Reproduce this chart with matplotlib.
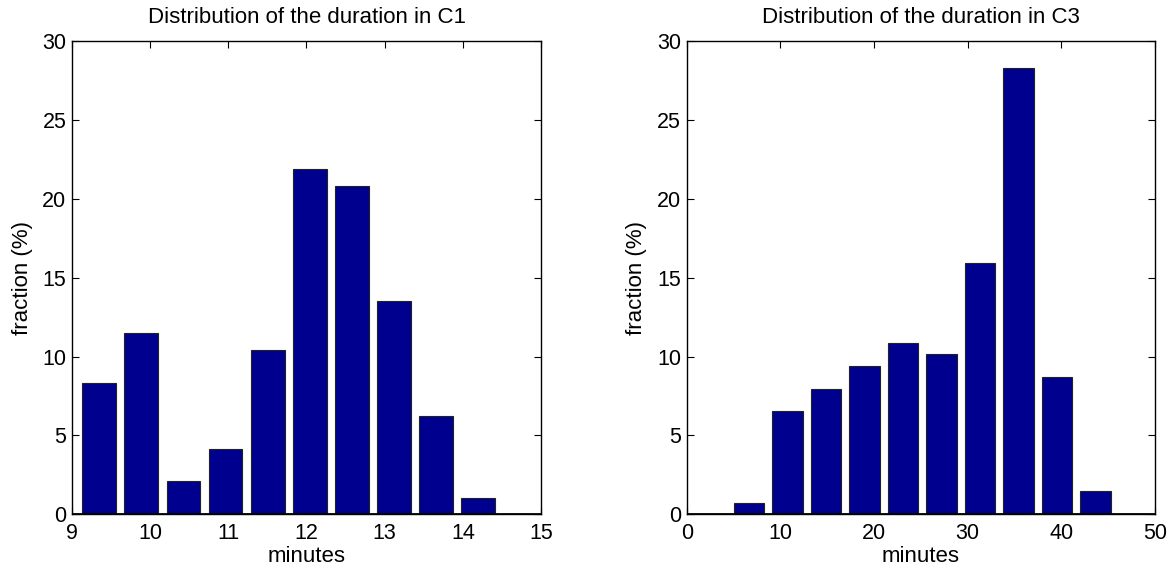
import matplotlib
matplotlib.use("Agg")
import matplotlib.pyplot as plt

plt.rcParams['font.family'] = ['Liberation Sans', 'DejaVu Sans']

# C1 histogram
c1_centers = [9.347, 9.886, 10.425, 10.964, 11.503, 12.042, 12.581, 13.120, 13.659, 14.198]
c1_values = [8.33, 11.46, 2.08, 4.17, 10.42, 21.88, 20.83, 13.54, 6.25, 1.04]
c1_xticks = [9, 10, 11, 12, 13, 14, 15]

# C3 histogram
c3_centers = [6.65, 10.76, 14.87, 18.98, 23.09, 27.21, 31.32, 35.43, 39.54, 43.65]
c3_values = [0.72, 6.52, 7.97, 9.42, 10.87, 10.14, 15.94, 28.26, 8.70, 1.45]
c3_xticks = [0, 10, 20, 30, 40, 50]

yticks = [0, 5, 10, 15, 20, 25, 30]
bar_color = '#00008F'

fig = plt.figure(figsize=(11.72, 5.71), dpi=100)
ax1 = fig.add_axes([72 / 1172, 1 - 514.3 / 571, (541 - 72) / 1172, (514.3 - 41) / 571])
ax2 = fig.add_axes([686.7 / 1172, 1 - 514.3 / 571, (1155 - 686.7) / 1172, (514.3 - 41) / 571])

def style(ax, centers, values, xticks, title):
    step = centers[1] - centers[0]
    ax.bar(centers, values, width=0.8 * step, color=bar_color,
           edgecolor='#222222', linewidth=0.8, zorder=2)
    ax.axhline(0, color='black', linewidth=2, zorder=3)
    ax.set_xlim(xticks[0], xticks[-1])
    ax.set_ylim(0, 30)
    ax.set_xticks(xticks)
    ax.set_yticks(yticks)
    ax.tick_params(direction='in', top=True, right=True, length=5,
                   width=0.8, labelsize=15.5)
    ax.tick_params(axis='x', pad=6)
    ax.tick_params(axis='y', pad=4)
    for s in ax.spines.values():
        s.set_linewidth(1.0)
    ax.set_xlabel('minutes', fontsize=16, labelpad=2)
    ax.set_ylabel('fraction (%)', fontsize=16, labelpad=7)
    ax.set_title(title, fontsize=16, pad=13)

style(ax1, c1_centers, c1_values, c1_xticks, 'Distribution of the duration in C1')
style(ax2, c3_centers, c3_values, c3_xticks, 'Distribution of the duration in C3')

fig.savefig('out.png', dpi=100)
